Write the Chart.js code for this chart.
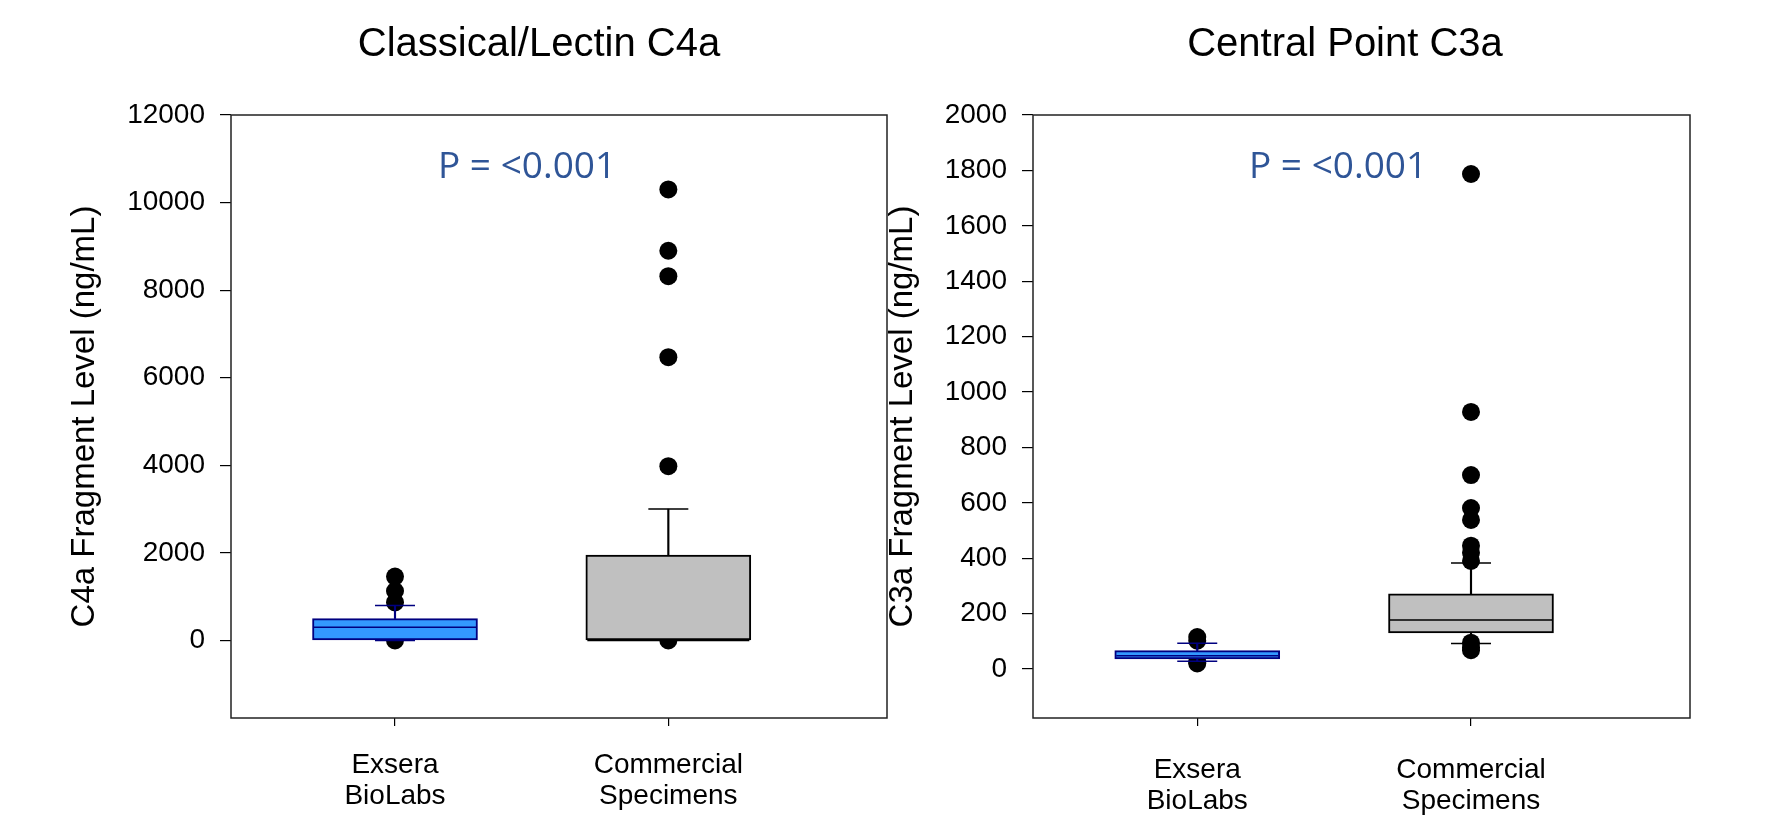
<!DOCTYPE html>
<html>
<head>
<meta charset="utf-8">
<script src="https://cdn.jsdelivr.net/npm/chart.js@4.4.1/dist/chart.umd.min.js"></script>
<style>
html, body { margin: 0; padding: 0; background: #fff; overflow: hidden; }
#wrap { position: relative; width: 1769px; height: 817px; }
canvas { position: absolute; left: 0; top: 0; }
</style>
</head>
<body>
<div id="wrap">
  <canvas id="c4a" width="1769" height="817"></canvas>
  <canvas id="c3a" width="1769" height="817"></canvas>
</div>
<script>
// groups on the x axis
const groupX = [1, 2];
const groupLabels = [['Exsera', 'BioLabs'], ['Commercial', 'Specimens']];

// Classical/Lectin C4a (ng/mL)
const c4aQ1 = [0, 0];
const c4aMedian = [300, 0];
const c4aQ3 = [500, 1950];
const c4aLow = [0, 0];
const c4aHigh = [800, 3000];
const c4aOutExsera = [1460, 1130, 870, 0];
const c4aOutCommercial = [10300, 8900, 8320, 6470, 3980, 0];
const c4aTicks = [0, 2000, 4000, 6000, 8000, 10000, 12000];

// Central Point C3a (ng/mL)
const c3aQ1 = [36, 130];
const c3aMedian = [48, 177];
const c3aQ3 = [66, 271];
const c3aLow = [28, 92];
const c3aHigh = [93, 383];
const c3aOutExsera = [115, 102, 25, 20];
const c3aOutCommercial = [1787, 928, 700, 581, 538, 445, 420, 390, 95, 78, 68];
const c3aTicks = [0, 200, 400, 600, 800, 1000, 1200, 1400, 1600, 1800, 2000];

const boxFill = ['#3399ff', '#c0c0c0'];
const boxLine = ['#000080', '#000000'];
const FONT = "'Liberation Sans', Arial, sans-serif";

// caps, medians, frame and texts
const boxExtras = {
    id: 'boxExtras',
    beforeDatasetsDraw(chart) {
        const a = chart.chartArea;
        const ctx = chart.ctx;
        ctx.save();
        ctx.strokeStyle = '#222';
        ctx.lineWidth = 1.5;
        ctx.strokeRect(a.left, a.top, a.right - a.left, a.bottom - a.top);
        ctx.restore();
    },
    afterDatasetsDraw(chart, args, opts) {
        const ctx = chart.ctx;
        const xs = chart.scales.x, ys = chart.scales.y;
        ctx.save();
        groupX.forEach((g, i) => {
            const px = xs.getPixelForValue(g);
            ctx.strokeStyle = boxLine[i];
            ctx.lineWidth = 1.5;
            ctx.beginPath();
            const m = ys.getPixelForValue(opts.median[i]);
            ctx.moveTo(px - 81, m); ctx.lineTo(px + 81, m);
            const hi = ys.getPixelForValue(opts.high[i]);
            ctx.moveTo(px - 20, hi); ctx.lineTo(px + 20, hi);
            const lo = ys.getPixelForValue(opts.low[i]);
            ctx.moveTo(px - 20, lo); ctx.lineTo(px + 20, lo);
            ctx.stroke();
        });
        ctx.restore();
    },
    afterDraw(chart, args, opts) {
        const ctx = chart.ctx;
        ctx.save();
        ctx.fillStyle = '#000';
        ctx.font = '40px ' + FONT;
        ctx.textAlign = 'center';
        ctx.textBaseline = 'middle';
        ctx.fillText(opts.title, opts.titleX, 45);
        ctx.fillStyle = '#2f5597';
        ctx.font = "37px 'Open Sans', 'Noto Sans', sans-serif";
        ctx.textAlign = 'left';
        ctx.fillText(opts.pText, opts.pX, 167);
        ctx.restore();
    }
};

function makeChart(id, d) {
    const pts = (vals, g) => vals.map(v => ({ x: g, y: v }));
    const ctx = document.getElementById(id).getContext('2d');
    return new Chart(ctx, {
        type: 'bar',
        data: {
            datasets: [
                {
                    label: 'box',
                    data: groupX.map((g, i) => ({ x: g, y: [d.q1[i], d.q3[i]] })),
                    backgroundColor: boxFill,
                    borderColor: boxLine,
                    borderWidth: 2,
                    borderSkipped: false,
                    barThickness: 165,
                    grouped: false,
                    order: 1
                },
                {
                    label: 'upper whisker',
                    data: groupX.map((g, i) => ({ x: g, y: [d.q3[i], d.high[i]] })),
                    backgroundColor: boxLine,
                    borderWidth: 0,
                    barThickness: 1.5,
                    grouped: false,
                    order: 2
                },
                {
                    label: 'lower whisker',
                    data: groupX.map((g, i) => ({ x: g, y: [d.low[i], d.q1[i]] })),
                    backgroundColor: boxLine,
                    borderWidth: 0,
                    barThickness: 1.5,
                    grouped: false,
                    order: 2
                },
                {
                    type: 'scatter',
                    label: 'outliers',
                    data: pts(d.outA, groupX[0]).concat(pts(d.outB, groupX[1])),
                    pointRadius: 9,
                    pointBackgroundColor: '#000',
                    pointBorderWidth: 0,
                    order: 5
                }
            ]
        },
        options: {
            responsive: false,
            animation: false,
            layout: { padding: d.padding },
            plugins: {
                legend: { display: false },
                tooltip: { enabled: false },
                boxExtras: {
                    median: d.median, high: d.high, low: d.low,
                    title: d.title, titleX: d.titleX,
                    pText: 'P = <0.001', pX: d.pX
                }
            },
            scales: {
                x: {
                    type: 'linear',
                    min: 0.4,
                    max: 2.8,
                    offset: false,
                    afterBuildTicks: axis => { axis.ticks = groupX.map(v => ({ value: v })); },
                    afterFit: axis => { axis.height = 99; },
                    grid: { offset: false, drawOnChartArea: false, drawTicks: true, tickLength: 8, color: '#000', lineWidth: 1.2 },
                    border: { display: false },
                    ticks: {
                        autoSkip: false,
                        maxRotation: 0,
                        padding: d.xPad,
                        color: '#000',
                        font: { family: FONT, size: 28, lineHeight: 1.1 },
                        callback: v => groupLabels[groupX.indexOf(v)]
                    }
                },
                y: {
                    min: d.min,
                    max: d.max,
                    afterBuildTicks: axis => { axis.ticks = d.ticks.map(v => ({ value: v })); },
                    afterFit: axis => { axis.width = d.axisWidth; },
                    grid: { drawOnChartArea: false, drawTicks: true, tickLength: 11, color: '#000', lineWidth: 1.2 },
                    border: { display: false },
                    ticks: {
                        padding: 15,
                        color: '#000',
                        font: { family: FONT, size: 28 },
                        callback: v => String(v)
                    },
                    title: {
                        display: true,
                        text: d.yTitle,
                        color: '#000',
                        font: { family: FONT, size: 33, lineHeight: 1.2 },
                        padding: { top: d.titlePad, bottom: 0 }
                    }
                }
            }
        },
        plugins: [boxExtras]
    });
}

makeChart('c4a', {
    q1: c4aQ1, median: c4aMedian, q3: c4aQ3, low: c4aLow, high: c4aHigh,
    outA: c4aOutExsera, outB: c4aOutCommercial, ticks: c4aTicks,
    min: -1770, max: 12000,
    yTitle: 'C4a Fragment Level (ng/mL)',
    title: 'Classical/Lectin C4a', titleX: 539, pX: 438,
    axisWidth: 231, titlePad: 65, xPad: 24,
    padding: { left: 0, right: 882, top: 115, bottom: 0 }
});

makeChart('c3a', {
    q1: c3aQ1, median: c3aMedian, q3: c3aQ3, low: c3aLow, high: c3aHigh,
    outA: c3aOutExsera, outB: c3aOutCommercial, ticks: c3aTicks,
    min: -177, max: 2000,
    yTitle: 'C3a Fragment Level (ng/mL)',
    title: 'Central Point C3a', titleX: 1345, pX: 1249,
    axisWidth: 173, titlePad: 23, xPad: 29,
    padding: { left: 860, right: 79, top: 115, bottom: 0 }
});
</script>
</body>
</html>
